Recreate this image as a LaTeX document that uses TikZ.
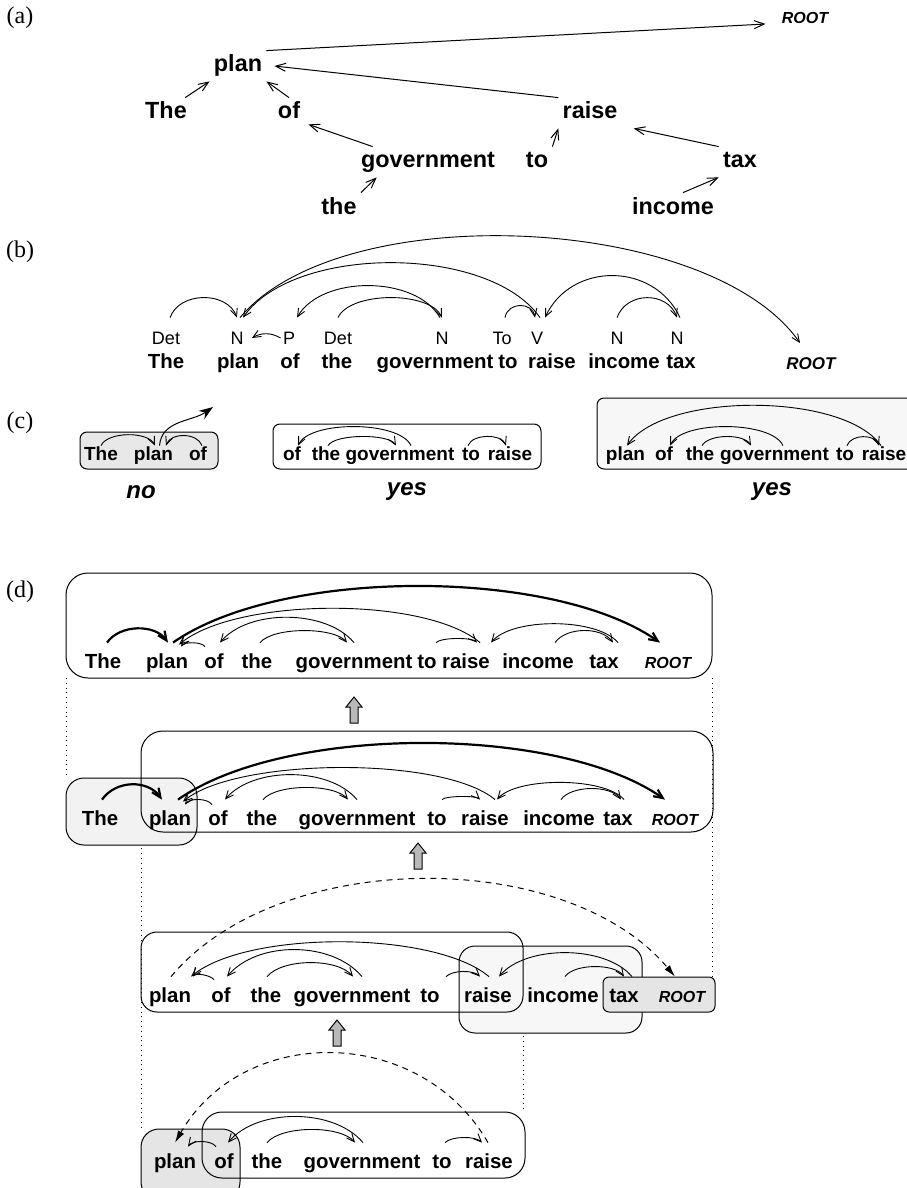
\documentclass[tikz,border=0pt]{standalone}
\usepackage{fontspec}
\setmainfont{Liberation Sans}
\newfontfamily\labfont{Liberation Serif}
\usetikzlibrary{arrows.meta}
\usetikzlibrary{positioning}

\tikzset{
  lab/.style={font=\labfont\fontsize{12}{14}\selectfont},
  tw/.style={font=\bfseries\fontsize{11.7}{14}\selectfont, inner sep=2pt, text height=8.5pt, text depth=2.5pt},
  troot/.style={tw, font=\bfseries\itshape\fontsize{8}{10}\selectfont},
  bw/.style={font=\bfseries\fontsize{10.2}{12}\selectfont, inner sep=0pt, text height=7.5pt, text depth=2pt},
  broot/.style={font=\bfseries\itshape\fontsize{8.5}{10}\selectfont, inner sep=0pt, text height=6pt, text depth=0pt},
  tagw/.style={font=\fontsize{9}{11}\selectfont, inner sep=0pt, text height=6.5pt, text depth=0pt, minimum height=20pt},
  cw/.style={font=\bfseries\fontsize{9.5}{11}\selectfont, inner sep=0pt, text height=7pt, text depth=2pt, minimum height=9pt},
  verdict/.style={font=\bfseries\itshape\fontsize{12}{14}\selectfont},
  dw/.style={font=\bfseries\fontsize{10.2}{12}\selectfont, inner sep=0pt, text height=7.5pt, text depth=2pt, minimum height=20pt},
  droot/.style={dw, font=\bfseries\itshape\fontsize{8}{10}\selectfont},
  tree/.style={line width=.5pt, -{Straight Barb[length=5pt,width=4pt]}},
  dep/.style={line width=.45pt, -{Straight Barb[length=4pt,width=3.5pt]}},
  depthick/.style={line width=1.1pt, -{Straight Barb[length=4.5pt,width=4pt]}},
  dashdep/.style={line width=.5pt, dash pattern=on 3pt off 2.5pt, -{Latex[length=6pt,width=3.5pt]}},
  cbox/.style={draw, line width=.5pt, rounded corners=3.5pt},
  dbox/.style={draw, line width=.5pt, rounded corners=11pt},
  guide/.style={dotted, line width=.4pt},
  blockarr/.style={draw, line width=.5pt, fill=gray!55}
}

\begin{document}
\begin{tikzpicture}[x=0.5pt,y=-0.5pt]
  \useasboundingbox (0,0) rectangle (906,1188);

  \node[lab] (la) at (20,18) {(a)};
  \node[lab] (lb) at (20,252) {(b)};
  \node[lab] (lc) at (20,423) {(c)};
  \node[lab] (ld) at (20,592) {(d)};

  % (a) the tree
  \node[troot] (aroot) at (805,18) {ROOT};
  \node[tw] (aplan) at (238,66) {plan};
  \node[tw] (athe) at (166,113) {The};
  \node[tw] (aof) at (289,113) {of};
  \node[tw] (araise) at (590,113) {raise};
  \node[tw] (agov) at (428,162) {government};
  \node[tw] (ato) at (537,162) {to};
  \node[tw] (atax) at (740,162) {tax};
  \node[tw] (athe2) at (339,208) {the};
  \node[tw] (ainc) at (673,208) {income};

  \draw[tree] (aplan.north east) -- ([xshift=-6pt,yshift=-3pt]aroot.west);
  \draw[tree] ([xshift=-3pt]athe.north east) -- (aplan.south west);
  \draw[tree] (aof.north) -- (aplan.south east);
  \draw[tree] (araise.north west) -- ([xshift=4pt]aplan.east);
  \draw[tree] ([xshift=8pt]agov.north west) -- ([xshift=2pt,yshift=2pt]aof.south east);
  \draw[tree] (ato.north east) -- (araise.south west);
  \draw[tree] (atax.north west) -- ([xshift=6pt]araise.south east);
  \draw[tree] (athe2.north east) -- ([xshift=10pt]agov.south west);
  \draw[tree] ([xshift=5pt]ainc.north) -- (atax.south west);

  % (b) the arcs over the tags
  \foreach \w/\x [count=\i] in {The/166,plan/238,of/290,the/337,government/435,to/508,raise/552,income/624,tax/681}
    \node[bw] (b\i) at (\x,363) {\w};
  \node[broot] (broot) at (811,363) {ROOT};
  \foreach \t/\x [count=\i] in {Det/166,N/237,P/289,Det/338,N/442,To/502,V/537,N/617,N/677}
    \node[tagw] (t\i) at (\x,338) {\t};

  \draw[dep] ([xshift=2pt]t1.north) to[out=70,in=110,looseness=1.08] (t2.north);
  \draw[dep] ([xshift=-1pt]t3.west) to[out=150,in=30,looseness=1] ([xshift=4pt]t2.east);
  \draw[dep] (t4.north) to[out=65,in=115,looseness=.72] (t5.north);
  \draw[dep] ([xshift=-1pt]t5.north) to[out=120,in=60,looseness=.88] ([xshift=4pt]t3.north);
  \draw[dep] ([xshift=1.5pt]t6.north) to[out=80,in=100,looseness=1.38] ([xshift=-1pt]t7.north);
  \draw[dep] ([xshift=1.5pt]t7.north) to[out=125,in=55,looseness=.77] ([xshift=3pt]t2.north);
  \draw[dep] (t8.north) to[out=70,in=110,looseness=1.2] (t9.north);
  \draw[dep] ([xshift=1.5pt]t9.north) to[out=115,in=65,looseness=1.17] ([xshift=4pt]t7.north);
  \draw[dep] ([xshift=1.5pt]t2.north) to[out=50,in=125,looseness=.72] ([xshift=-5.5pt,yshift=10pt]broot.center);

  % (c) three spans
  \draw[cbox, fill=gray!18] (80,432) rectangle (218,469);
  \draw[cbox] (273,424) rectangle (541,469);
  \draw[cbox, fill=gray!6] (597,398) rectangle (915,469);

  \foreach \w/\x in {The/101,plan/153.5,of/198}
    \node[cw] (c1\w) at (\x,455) {\w};
  \foreach \w/\x in {of/292,the/326,government/400,to/471,raise/510}
    \node[cw] (c2\w) at (\x,455) {\w};
  \foreach \w/\x in {plan/625.5,of/664,the/700,government/774.5,to/845,raise/884}
    \node[cw] (c3\w) at (\x,455) {\w};
  \coordinate (cout) at (213,407);

  \draw[dep] (c1The.north) to[out=65,in=115,looseness=.75] ([xshift=.75pt]c1plan.north);
  \draw[dep] ([xshift=2pt]c1of.north) to[out=110,in=70,looseness=1] ([xshift=6.25pt]c1plan.north);
  \draw[line width=.5pt, -{Stealth[length=7pt,width=5pt]}] ([xshift=3pt]c1plan.north) to[out=85,in=215] (cout);

  \draw[dep] ([xshift=5.5pt]c2government.north) to[out=115,in=65,looseness=.63] ([xshift=3pt]c2of.north);
  \draw[dep] ([xshift=1pt]c2the.north) to[out=60,in=120,looseness=.52] ([xshift=-2pt]c2government.north);
  \draw[dep] ([xshift=-1.5pt]c2to.north) to[out=70,in=110,looseness=.86] ([xshift=-2pt]c2raise.north);

  \draw[dep] ([xshift=-1.5pt]c3raise.north) to[out=125,in=55,looseness=.66] ([xshift=.75pt]c3plan.north);
  \draw[dep] ([xshift=4.25pt]c3government.north) to[out=115,in=65,looseness=.63] ([xshift=3pt]c3of.north);
  \draw[dep] ([xshift=1pt]c3the.north) to[out=60,in=120,looseness=.72] ([xshift=-11.75pt]c3government.north);
  \draw[dep] ([xshift=1pt]c3to.north) to[out=70,in=110,looseness=1] ([xshift=-2.5pt]c3raise.north);

  \node[verdict] (cno) at (141,492) {no};
  \node[verdict] (cyes1) at (407,492) {yes};
  \node[verdict] (cyes2) at (772,492) {yes};

  % (d) guides and boxes
  \draw[guide] (66,678) -- (66,778);
  \draw[guide] (712,678) -- (712,977);
  \draw[guide] (141,810) -- (141,1129);
  \draw[guide] (523,1012) -- (523,1112);

  \draw[dbox] (66,573) rectangle (712,678);
  \draw[dbox, fill=gray!10, rounded corners=9pt] (66,778) rectangle (197,845);
  \draw[dbox] (141,731) rectangle (713,832);
  \draw[dbox, fill=gray!6, rounded corners=8pt] (459,946) rectangle (642,1033);
  \draw[dbox, rounded corners=8pt] (141,932) rectangle (523,1012);
  \draw[dbox, fill=gray!20, rounded corners=3pt] (603,977) rectangle (715,1012);
  \draw[dbox, fill=gray!20, rounded corners=9pt] (141,1129) rectangle (240,1200);
  \draw[dbox, rounded corners=10pt] (202,1112) rectangle (525,1178);

  \foreach \x/\t in {354/697,418/843,337/1020}
    \draw[blockarr] (\x-4,\t+26) -- (\x-4,\t+10) -- (\x-8,\t+10) -- (\x,\t) -- (\x+8,\t+10) -- (\x+4,\t+10) -- (\x+4,\t+26) -- cycle;

  % (d) words
  \foreach \w/\x in {The/103,plan/167,of/214,the/257,government/354,to/427,raise/466,income/538,tax/604}
    \node[dw] (one\w) at (\x,663) {\w};
  \node[droot] (oneROOT) at (668,663) {ROOT};
  \foreach \w/\x in {The/100,plan/170,of/218,the/262,government/357,to/437,raise/485,income/559,tax/618}
    \node[dw] (two\w) at (\x,820) {\w};
  \node[droot] (twoROOT) at (675,820) {ROOT};
  \foreach \w/\x in {plan/170,of/221,the/266,government/352,to/430,raise/488,income/563,tax/624}
    \node[dw] (three\w) at (\x,997) {\w};
  \node[droot] (threeROOT) at (682,997) {ROOT};
  \foreach \w/\x in {plan/175,of/224,the/267,government/362,to/442,raise/489}
    \node[dw] (four\w) at (\x,1163) {\w};

  % (d) level one
  \draw[depthick] ([xshift=2pt]oneThe.north) to[out=55,in=125,looseness=.95] ([xshift=.5pt]oneplan.north);
  \draw[depthick] ([xshift=3pt]oneplan.north) to[out=35,in=145,looseness=.69] ([xshift=-4pt]oneROOT.north);
  \draw[dep] ([xshift=7pt]oneraise.north) to[out=140,in=40,looseness=.62] ([xshift=6pt,yshift=-1pt]oneplan.north);
  \draw[dep] ([xshift=-4.5pt,yshift=-2pt]oneof.north) to[out=125,in=55,looseness=.64] ([xshift=7pt,yshift=-2pt]oneplan.north);
  \draw[dep] (onegovernment.north) to[out=130,in=50,looseness=.84] ([xshift=3pt]oneof.north);
  \draw[dep] ([xshift=1.5pt]onethe.north) to[out=50,in=130,looseness=.61] ([xshift=-3.5pt]onegovernment.north);
  \draw[dep] ([xshift=4.5pt]oneto.north) to[out=45,in=135,looseness=.47] ([xshift=5.5pt]oneraise.north);
  \draw[dep] ([xshift=7pt]onetax.north) to[out=130,in=50,looseness=.66] ([xshift=12.5pt]oneraise.north);
  \draw[dep] ([xshift=8.5pt]oneincome.north) to[out=55,in=125,looseness=.86] ([xshift=4.5pt]onetax.north);

  % (d) level two
  \draw[depthick] ([xshift=1pt]twoThe.north) to[out=55,in=125,looseness=1.04] ([xshift=-4pt]twoplan.north);
  \draw[depthick] ([xshift=4pt]twoplan.north) to[out=35,in=145,looseness=.69] ([xshift=-5pt]twoROOT.north);
  \draw[dep] ([xshift=5pt]tworaise.north) to[out=140,in=40,looseness=.56] ([xshift=6.5pt,yshift=-1pt]twoplan.north);
  \draw[dep] ([xshift=-3pt,yshift=-2.5pt]twoof.north) to[out=125,in=55,looseness=.77] ([xshift=7.5pt,yshift=-2.5pt]twoplan.north);
  \draw[dep] (twogovernment.north) to[out=130,in=50,looseness=.84] ([xshift=3.5pt]twoof.north);
  \draw[dep] ([xshift=.5pt]twothe.north) to[out=50,in=130,looseness=.63] ([xshift=-4.5pt]twogovernment.north);
  \draw[dep] ([xshift=2.5pt]twoto.north) to[out=45,in=135,looseness=.38] ([xshift=-2.5pt]tworaise.north);
  \draw[dep] ([xshift=3pt]twotax.north) to[out=130,in=50,looseness=.6] ([xshift=6pt]tworaise.north);
  \draw[dep] ([xshift=1pt]twoincome.north) to[out=55,in=125,looseness=.76] ([xshift=1.5pt]twotax.north);

  % (d) level three
  \draw[dep] ([xshift=.5pt]threeraise.north) to[out=140,in=40,looseness=.62] ([xshift=10.5pt]threeplan.north);
  \draw[dep] ([xshift=-3.5pt,yshift=-1.5pt]threeof.north) to[out=125,in=55,looseness=.6] ([xshift=11.5pt]threeplan.north);
  \draw[dep] ([xshift=5pt]threegovernment.north) to[out=130,in=50,looseness=.89] ([xshift=3pt]threeof.north);
  \draw[dep] ([xshift=.5pt]threethe.north) to[out=50,in=130,looseness=.72] ([xshift=.5pt]threegovernment.north);
  \draw[dep] ([xshift=8pt]threeto.north) to[out=45,in=135,looseness=.71] ([xshift=-4pt]threeraise.north);
  \draw[dep] ([xshift=4pt]threetax.north) to[out=130,in=50,looseness=.8] ([xshift=5.5pt]threeraise.north);
  \draw[dep] ([xshift=1pt]threeincome.north) to[out=55,in=125,looseness=.7] (threetax.north);
  \draw[dashdep] ([xshift=.5pt]threeplan.north) to[out=50,in=130,looseness=.86] ([xshift=-3.5pt]threeROOT.north);

  % (d) level four
  \draw[dep] ([xshift=-4pt,yshift=-2pt]fourof.north) to[out=125,in=55,looseness=.74] ([xshift=6.5pt,yshift=-2pt]fourplan.north);
  \draw[dep] ([xshift=.5pt]fourgovernment.north) to[out=130,in=50,looseness=.86] ([xshift=2pt]fourof.north);
  \draw[dep] (fourthe.north) to[out=50,in=130,looseness=.66] ([xshift=-3.5pt]fourgovernment.north);
  \draw[dep] ([xshift=1.5pt]fourto.north) to[out=45,in=135,looseness=.65] ([xshift=-3.5pt]fourraise.north);
  \draw[dashdep] ([xshift=-.5pt]fourraise.north) to[out=120,in=60,looseness=1.12] (fourplan.north);
\end{tikzpicture}
\end{document}
